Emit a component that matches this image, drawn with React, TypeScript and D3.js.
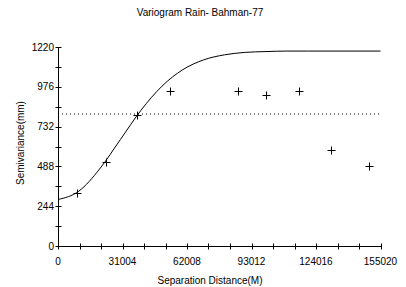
import React from "react";
import * as d3 from "d3";

const title = "Variogram Rain- Bahman-77";
const xTitle = "Separation Distance(M)";
const yTitle = "Semivariance(mm)";
const xTicks = [0, 31004, 62008, 93012, 124016, 155020];
const yTicks = [0, 244, 488, 732, 976, 1220];
const xMinorStep = 31004 / 3;
const yMinorStep = 122;
const sampleVariance = 809;

// Experimental variogram points
const lagDist = [9150, 23110, 38180, 53920, 86330, 99800, 115700, 131280, 149400];
const lagGamma = [325, 513, 803, 950, 952, 926, 952, 588, 490];

// Model curve points
const modelDist = [0, 10000, 20000, 30000, 40000, 50000, 60000, 70000, 80000, 90000, 100000, 110000, 120000, 155020];
const modelGamma = [285, 336, 472, 653, 834, 980, 1081, 1141, 1172, 1187, 1192, 1195, 1195, 1195];

const W = 406, H = 287;
const L = 58, R = 380.5, T = 47, B = 246;

export default function App() {
  const x = d3.scaleLinear().domain([0, 155020]).range([L, R]);
  const y = d3.scaleLinear().domain([0, 1220]).range([B, T]);
  const line = d3.line<number>().x((_, i) => x(modelDist[i])).y((d) => y(d)).curve(d3.curveMonotoneX);
  const xMinor = d3.range(0, 155020 + 1, xMinorStep);
  const yMinor = d3.range(0, 1220 + 1, yMinorStep);
  const font = "'Liberation Sans', Arial, sans-serif";
  return (
    <svg width={W} height={H} style={{ position: "absolute", left: 0, top: 0, background: "#fff" }} fontFamily={font} fontSize={10}>
      <rect width={W} height={H} fill="#fff" />
      <text x={200} y={16} textAnchor="middle" fontSize={10}>{title}</text>
      {/* dotted sill line */}
      <line x1={L} x2={R} y1={y(sampleVariance)} y2={y(sampleVariance)} stroke="#000" strokeDasharray="1,3" />
      {/* model curve */}
      <path d={line(modelGamma) || ""} fill="none" stroke="#000" strokeWidth={1} />
      {/* points */}
      {lagDist.map((d, i) => (
        <g key={i} transform={`translate(${Math.round(x(d)) + 0.5},${Math.round(y(lagGamma[i])) + 0.5})`}>
          <line x1={-4} x2={4} y1={0} y2={0} stroke="#000" />
          <line x1={0} x2={0} y1={-4} y2={4} stroke="#000" />
        </g>
      ))}
      {/* y axis */}
      <line x1={L + 0.5} x2={L + 0.5} y1={T} y2={B} stroke="#000" />
      {yMinor.map((v, i) => (
        <line key={"ym" + i} x1={L - 2.5} x2={L + 3.5} y1={Math.round(y(v)) + 0.5} y2={Math.round(y(v)) + 0.5} stroke="#000" />
      ))}
      {yTicks.map((v) => (
        <text key={"yt" + v} x={L - 4} y={y(v)} dy="0.35em" textAnchor="end">{v}</text>
      ))}
      {/* x axis */}
      <line x1={L} x2={R + 1} y1={B + 0.5} y2={B + 0.5} stroke="#000" />
      {xMinor.map((v, i) => (
        <line key={"xm" + i} x1={Math.round(x(v)) + 0.5} x2={Math.round(x(v)) + 0.5} y1={B - 2.5} y2={B + 3.5} stroke="#000" />
      ))}
      {xTicks.map((v) => (
        <text key={"xt" + v} x={x(v)} y={265} textAnchor="middle">{v}</text>
      ))}
      <text x={210} y={284} textAnchor="middle">{xTitle}</text>
      <text transform={`translate(24,143) rotate(-90)`} textAnchor="middle">{yTitle}</text>
    </svg>
  );
}
